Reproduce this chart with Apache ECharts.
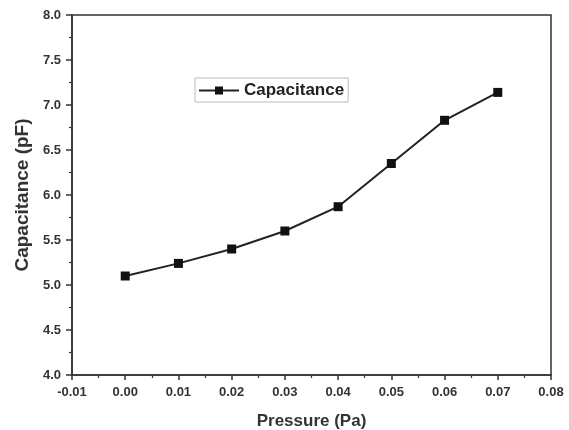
<!DOCTYPE html>
<html>
<head>
<meta charset="utf-8">
<script src="https://cdn.jsdelivr.net/npm/echarts@6/dist/echarts.min.js"></script>
<style>
  html, body { margin: 0; padding: 0; background: #fff; }
  #chart { width: 569px; height: 430px; }
</style>
</head>
<body>
<div id="chart"></div>
<script>
// data
const pressure = [0.00, 0.01, 0.02, 0.03, 0.04, 0.05, 0.06, 0.07]
const capacitance = [5.10, 5.24, 5.40, 5.60, 5.87, 6.35, 6.83, 7.14]
const seriesName = 'Capacitance'

const chart = echarts.init(document.getElementById('chart'))

const axisText = { color: '#333', fontFamily: 'Liberation Sans', fontWeight: 'bold', fontSize: 13 }
const nameText = { color: '#333', fontFamily: 'Liberation Sans', fontWeight: 'bold', fontSize: 17 }

chart.setOption({
  backgroundColor: '#fff',
  animation: false,
  grid: {
    left: 72, right: 18, top: 15, bottom: 55,
    outerBoundsMode: 'none',
    show: true, borderColor: '#333', borderWidth: 1.5
  },
  legend: {
    data: [seriesName],
    left: 195, top: 78,
    itemWidth: 40, itemHeight: 10, itemGap: 5,
    padding: [4, 4, 3, 3],
    borderColor: '#bbb', borderWidth: 1, borderRadius: 0,
    textStyle: { color: '#222', fontFamily: 'Liberation Sans', fontWeight: 'bold', fontSize: 17 }
  },
  xAxis: {
    type: 'value',
    min: -0.01, max: 0.08, interval: 0.01,
    name: 'Pressure (Pa)', nameLocation: 'middle', nameGap: 38,
    nameTextStyle: nameText,
    axisLine: { show: true, onZero: false, lineStyle: { color: '#333', width: 1.5 } },
    axisTick: { show: true, length: 5, lineStyle: { color: '#333', width: 1.5 } },
    minorTick: { show: true, splitNumber: 2, length: 3, lineStyle: { color: '#333', width: 1.2 } },
    splitLine: { show: false },
    axisLabel: Object.assign({ margin: 11, formatter: v => v.toFixed(2) }, axisText)
  },
  yAxis: {
    type: 'value',
    min: 4, max: 8, interval: 0.5,
    name: 'Capacitance (pF)', nameLocation: 'middle', nameGap: 40,
    nameTextStyle: Object.assign({}, nameText, { fontSize: 19 }),
    axisLine: { show: true, onZero: false, lineStyle: { color: '#333', width: 1.5 } },
    axisTick: { show: true, length: 6, lineStyle: { color: '#333', width: 1.5 } },
    minorTick: { show: true, splitNumber: 2, length: 3, lineStyle: { color: '#333', width: 1.2 } },
    splitLine: { show: false },
    axisLabel: Object.assign({ margin: 11, formatter: v => v.toFixed(1) }, axisText)
  },
  series: [{
    name: seriesName,
    type: 'line',
    data: pressure.map((p, i) => [p, capacitance[i]]),
    symbol: 'rect', symbolSize: 9,
    itemStyle: { color: '#111' },
    lineStyle: { color: '#222', width: 2 }
  }]
})
</script>
</body>
</html>
